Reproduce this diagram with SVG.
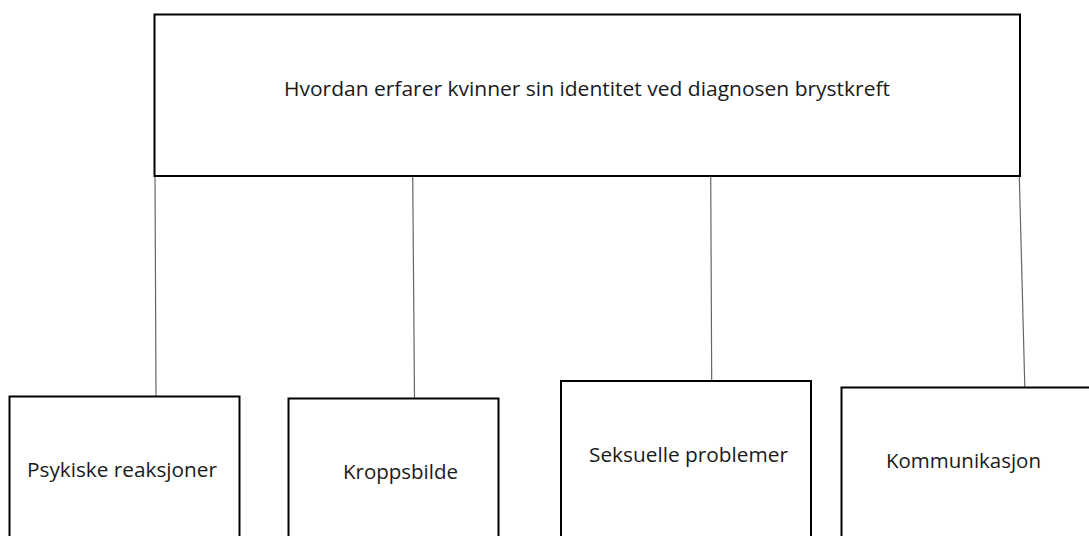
<svg xmlns="http://www.w3.org/2000/svg" width="1089" height="536" viewBox="0 0 1089 536">
<style>
.box{fill:#fff;stroke:#000;stroke-width:2}
.lbl{font-family:"Open Sans","Noto Sans","Liberation Sans",sans-serif;font-size:20px;fill:#1a1a1a}
.conn{stroke:#666;stroke-width:1.2;fill:none}
</style>
<rect width="1089" height="536" fill="#fff"/>
<g id="connectors">
<line class="conn" x1="155" y1="176" x2="156" y2="396"/>
<line class="conn" x1="412.7" y1="173" x2="414.5" y2="398"/>
<line class="conn" x1="710.7" y1="172" x2="711.7" y2="381"/>
<line class="conn" x1="1019.3" y1="176" x2="1024.8" y2="387"/>
</g>
<g id="node-top">
<rect class="box" x="154.5" y="14.5" width="865.5" height="161.5"/>
<text class="lbl" x="284" y="96" textLength="606" lengthAdjust="spacingAndGlyphs">Hvordan erfarer kvinner sin identitet ved diagnosen brystkreft</text>
</g>
<g id="node-psykiske">
<rect class="box" x="9.5" y="396.5" width="230" height="160"/>
<text class="lbl" x="27" y="477" textLength="190" lengthAdjust="spacingAndGlyphs">Psykiske reaksjoner</text>
</g>
<g id="node-kroppsbilde">
<rect class="box" x="288.5" y="398.5" width="210" height="160"/>
<text class="lbl" x="343" y="479" textLength="115" lengthAdjust="spacingAndGlyphs">Kroppsbilde</text>
</g>
<g id="node-seksuelle">
<rect class="box" x="561" y="381" width="250" height="180"/>
<text class="lbl" x="589" y="462" textLength="199" lengthAdjust="spacingAndGlyphs">Seksuelle problemer</text>
</g>
<g id="node-kommunikasjon">
<rect class="box" x="841.5" y="387.5" width="260" height="180"/>
<text class="lbl" x="886" y="468" textLength="155" lengthAdjust="spacingAndGlyphs">Kommunikasjon</text>
</g>
</svg>
